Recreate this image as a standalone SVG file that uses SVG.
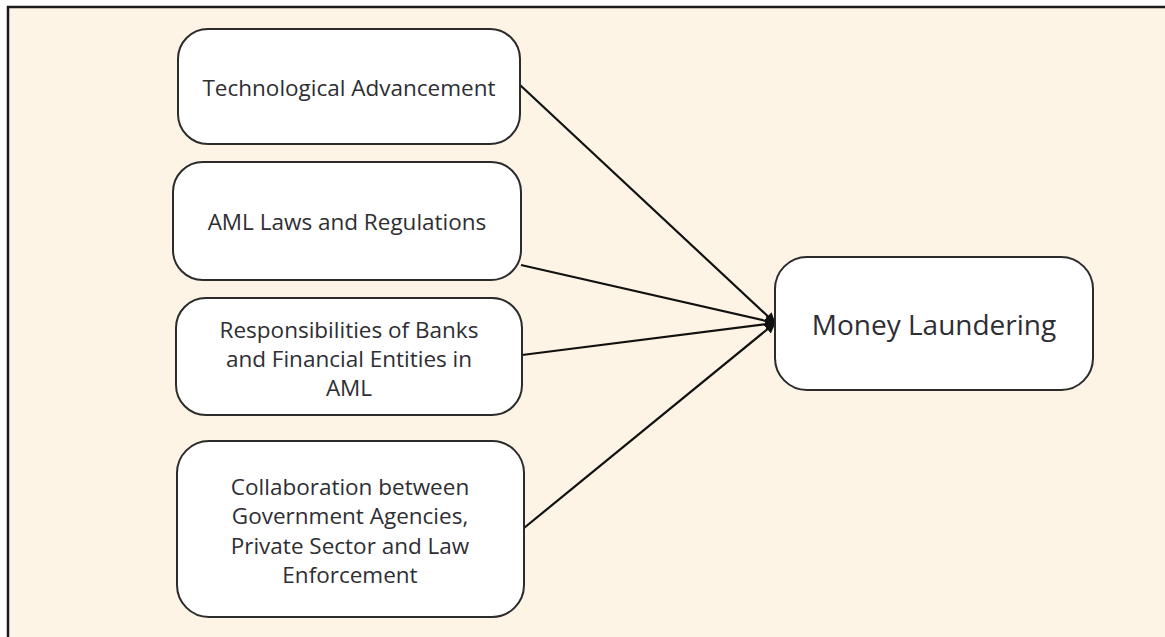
<svg xmlns="http://www.w3.org/2000/svg" width="1165" height="637" viewBox="0 0 1165 637">
  <style>
    .box { fill: #ffffff; stroke: #2b2b2b; stroke-width: 2; }
    .lbl { font-family: "Open Sans", "Noto Sans", sans-serif; font-size: 22.5px; fill: #2e2e33; text-anchor: middle; dominant-baseline: central; }
    .big { font-size: 28px; }
    .edge { stroke: #111111; stroke-width: 2.2; fill: none; marker-end: url(#arrow); }
  </style>
  <defs>
    <marker id="arrow" viewBox="0 0 10 10" refX="9" refY="5" markerWidth="5" markerHeight="5" orient="auto" markerUnits="strokeWidth">
      <path d="M0,0 L10,5 L0,10 z" fill="#111111"/>
    </marker>
  </defs>

  <!-- page -->
  <rect x="0" y="0" width="1165" height="637" fill="#ffffff"/>
  <rect x="8" y="7" width="1170" height="640" fill="#fef4e6" stroke="#1a1a1a" stroke-width="2.5"/>

  <!-- connectors -->
  <g id="connectors">
    <line class="edge" x1="520" y1="85" x2="775" y2="323"/>
    <line class="edge" x1="521" y1="265" x2="775" y2="323"/>
    <line class="edge" x1="522" y1="355" x2="775" y2="323"/>
    <line class="edge" x1="524" y1="528" x2="775" y2="323"/>
  </g>

  <g id="tech">
    <rect class="box" x="178" y="29" width="342" height="115" rx="30"/>
    <text class="lbl" x="349" y="87">Technological Advancement</text>
  </g>

  <g id="laws">
    <rect class="box" x="173" y="162" width="348" height="118" rx="30"/>
    <text class="lbl" x="347" y="221">AML Laws and Regulations</text>
  </g>

  <g id="banks">
    <rect class="box" x="176" y="298" width="346" height="117" rx="30"/>
    <text class="lbl" x="349" y="329">Responsibilities of Banks</text>
    <text class="lbl" x="349" y="358">and Financial Entities in</text>
    <text class="lbl" x="349" y="387">AML</text>
  </g>

  <g id="collab">
    <rect class="box" x="177" y="441" width="347" height="176" rx="32"/>
    <text class="lbl" x="350" y="486">Collaboration between</text>
    <text class="lbl" x="350" y="515">Government Agencies,</text>
    <text class="lbl" x="350" y="545">Private Sector and Law</text>
    <text class="lbl" x="350" y="574">Enforcement</text>
  </g>

  <g id="money">
    <rect class="box" x="775" y="257" width="318" height="133" rx="32"/>
    <text class="lbl big" x="934" y="324">Money Laundering</text>
  </g>
</svg>
